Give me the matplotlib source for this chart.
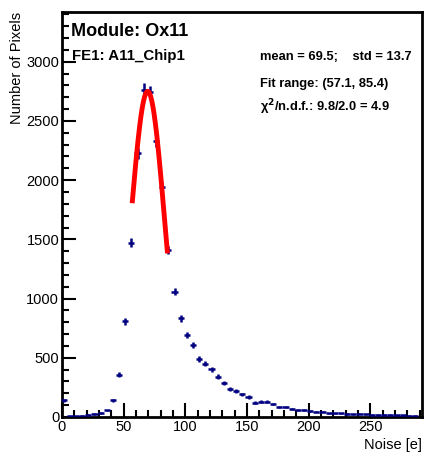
import matplotlib
matplotlib.use("Agg")
import matplotlib.pyplot as plt
import numpy as np
from matplotlib.ticker import MultipleLocator

plt.rcParams["font.family"] = ["Liberation Sans", "DejaVu Sans"]

# histogram of pixel noise, 5 e bins
bin_width = 5.0
noise_centers = np.arange(1.3, 290, bin_width)
pixel_counts = [
    140, 5, 8, 12, 18, 25, 35, 55, 140, 357,
    809, 1473, 2226, 2764, 2745, 2327, 1941, 1410, 1059, 834,
    690, 609, 490, 448, 403, 341, 290, 237, 220, 192,
    169, 121, 130, 130, 110, 85, 85, 70, 59, 59,
    51, 45, 45, 30, 30, 32, 25, 22, 28, 22,
    20, 20, 17, 17, 15, 15, 12, 12,
]

# gaussian fit
fit_amp = 2750.0
fit_mean = 69.5
fit_std = 13.7
fit_lo, fit_hi = 57.1, 85.4

W, H = 431, 458
fig = plt.figure(figsize=(W / 100, H / 100), dpi=100)
ax = fig.add_axes([62 / W, 1 - 417 / H, (422 - 62) / W, (417 - 12) / H])

counts = np.array(pixel_counts, dtype=float)
x = noise_centers[:len(counts)]
ax.errorbar(x, counts, xerr=bin_width / 2, yerr=np.sqrt(counts),
            fmt="none", ecolor="#000080", elinewidth=1.8, capsize=0, zorder=3)

xf = np.linspace(fit_lo, fit_hi, 200)
yf = fit_amp * np.exp(-(xf - fit_mean) ** 2 / (2 * fit_std ** 2))
ax.plot(xf, yf, color="#ff0000", lw=3.5, zorder=4)

ax.set_xlim(0, 292)
ax.set_ylim(0, 3420)
ax.xaxis.set_major_locator(MultipleLocator(50))
ax.xaxis.set_minor_locator(MultipleLocator(10))
ax.yaxis.set_major_locator(MultipleLocator(500))
ax.yaxis.set_minor_locator(MultipleLocator(100))
ax.tick_params(which="both", direction="in", top=False, right=False,
               labelsize=10.5, width=1.5)
ax.tick_params(which="major", length=10, pad=2)
ax.tick_params(which="minor", length=5)
for s in ax.spines.values():
    s.set_linewidth(2)

ax.set_xlabel("Noise [e]", fontsize=10.5, loc="right", labelpad=3)
ax.set_ylabel("Number of Pixels", fontsize=10.5, loc="top", labelpad=2)

def ftext(px, py, s, size):
    fig.text(px / W, 1 - py / H, s, fontsize=size, fontweight="bold",
             ha="left", va="baseline")

ftext(71, 36, "Module: Ox11", 13)
ftext(72, 60, "FE1: A11_Chip1", 10.8)
ftext(260, 60, "mean = 69.5;    std = 13.7", 9.3)
ftext(260, 86.5, "Fit range: (57.1, 85.4)", 9.3)
ftext(260, 111, "χ$^{\\mathbf{2}}$/n.d.f.: 9.8/2.0 = 4.9", 9.3)

fig.savefig("out.png", dpi=100)
